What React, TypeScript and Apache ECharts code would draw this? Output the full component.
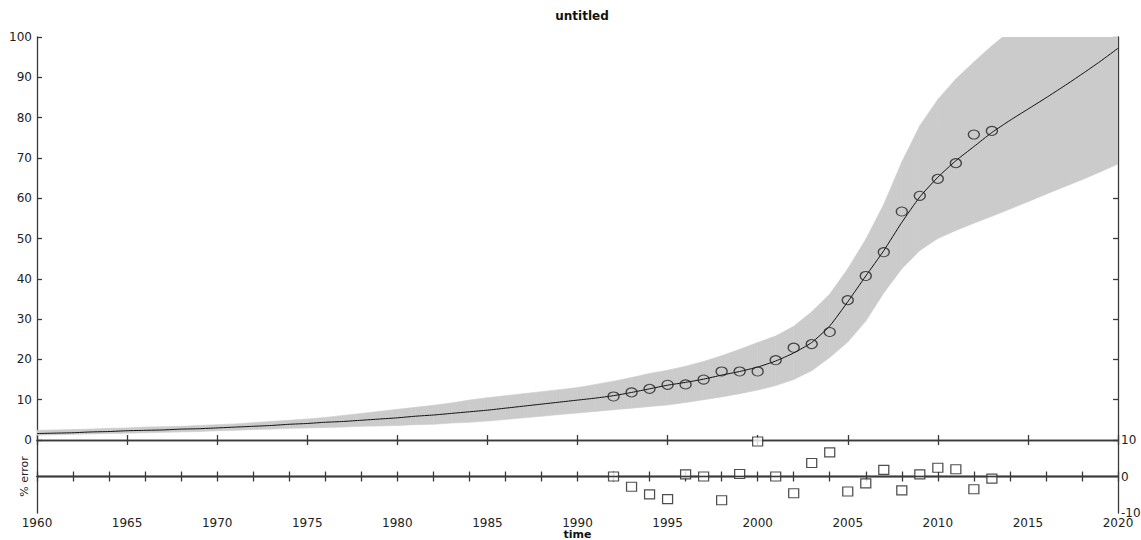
import React, { useEffect, useRef } from "react";
import * as echarts from "echarts";

const TITLE = "untitled";
const X_NAME = "time";
const ERR_NAME = "% error";

const FIT_YEARS = [
  1960, 1961, 1962, 1963, 1964, 1965, 1966, 1967, 1968, 1969,
  1970, 1971, 1972, 1973, 1974, 1975, 1976, 1977, 1978, 1979,
  1980, 1981, 1982, 1983, 1984, 1985, 1986, 1987, 1988, 1989,
  1990, 1991, 1992, 1993, 1994, 1995, 1996, 1997, 1998, 1999,
  2000, 2001, 2002, 2003, 2004, 2005, 2006, 2007, 2008, 2009,
  2010, 2011, 2012, 2013, 2014, 2015, 2016, 2017, 2018, 2019, 2020,
];

const FIT_VALUES = [
  1.6, 1.7, 1.8, 2.0, 2.1, 2.3, 2.4, 2.5, 2.7, 2.8,
  3.0, 3.2, 3.4, 3.6, 3.9, 4.1, 4.4, 4.6, 4.9, 5.2,
  5.5, 5.9, 6.2, 6.6, 7.0, 7.4, 7.9, 8.4, 8.9, 9.4,
  9.9, 10.4, 11.0, 11.8, 12.7, 13.6, 14.3, 15.1, 16.1, 17.0,
  18.1, 19.6, 21.6, 24.2, 28.3, 34.3, 40.7, 47.0, 54.0, 60.3,
  65.2, 69.3, 72.8, 76.3, 79.3, 82.1, 84.9, 87.8, 90.8, 93.9, 97.2,
];

const BAND_LOWER = [
  1.2, 1.3, 1.4, 1.5, 1.6, 1.7, 1.8, 1.9, 2.0, 2.1,
  2.3, 2.4, 2.6, 2.7, 2.9, 3.0, 3.1, 3.2, 3.4, 3.5,
  3.6, 3.8, 3.9, 4.2, 4.4, 4.7, 5.1, 5.5, 5.9, 6.3,
  6.7, 7.1, 7.5, 7.9, 8.3, 8.7, 9.3, 10.0, 10.7, 11.5,
  12.4, 13.5, 15.0, 17.2, 20.5, 24.3, 29.5, 36.5, 42.5, 47.0,
  50.0, 52.0, 53.8, 55.5, 57.3, 59.1, 61.0, 62.8, 64.6, 66.5, 68.5,
];

const BAND_UPPER = [
  2.4, 2.5, 2.6, 2.7, 2.9, 3.0, 3.2, 3.3, 3.4, 3.6,
  3.8, 4.0, 4.3, 4.6, 4.9, 5.2, 5.6, 6.1, 6.6, 7.1,
  7.6, 8.1, 8.6, 9.2, 9.9, 10.5, 11.0, 11.5, 12.0, 12.5,
  13.0, 13.8, 14.6, 15.5, 16.5, 17.3, 18.3, 19.5, 20.9, 22.5,
  24.2, 25.8, 28.2, 31.8, 36.2, 42.5, 49.8, 58.5, 69.0, 78.0,
  84.5, 89.6, 93.8, 97.8, 101.5, 105.0, 108.5, 112.0, 115.5, 119.0, 122.5,
];

const OBS_YEARS = [
  1992, 1993, 1994, 1995, 1996, 1997, 1998, 1999, 2000, 2001, 2002,
  2003, 2004, 2005, 2006, 2007, 2008, 2009, 2010, 2011, 2012, 2013,
];

const OBS_VALUES = [
  10.8, 11.8, 12.7, 13.7, 13.8, 15.0, 17.0, 17.0, 17.0, 19.8, 22.9,
  23.8, 26.8, 34.7, 40.7, 46.6, 56.7, 60.6, 64.8, 68.7, 75.8, 76.7,
];

const ERR_VALUES = [
  0, -2.8, -4.9, -6.2, 0.6, 0, -6.5, 0.7, 9.6, 0, -4.6,
  3.7, 6.6, -4.1, -1.9, 1.8, -3.8, 0.6, 2.4, 2.0, -3.5, -0.6,
];

const X_LABEL_YEARS = [1960, 1965, 1970, 1975, 1980, 1985, 1990, 1995, 2000, 2005, 2010, 2015, 2020];
const X_MINOR_TICKS = [
  1960, 1962, 1964, 1966, 1968, 1970, 1972, 1974, 1976, 1978, 1980, 1982, 1984, 1986, 1988, 1990,
  1992, 1994, 1996, 1998, 2000, 2002, 2004, 2006, 2008, 2010, 2012, 2014, 2016, 2018, 2020,
];
const ERR_TICKS = [-10, 0, 10];

const FONT = "DejaVu Sans";
const AXIS_COLOR = "#3a3a3a";
const TEXT_COLOR = "#222";
const BAND_COLOR = "#cbcbcb";

export default function App() {
  const ref = useRef<HTMLDivElement>(null);

  useEffect(() => {
    if (!ref.current) return;
    const chart = echarts.init(ref.current, undefined, { renderer: "svg" });

    const axisLine = { show: true, lineStyle: { color: AXIS_COLOR, width: 1.3 } };
    const tick = (show: boolean, extra: any = {}) => ({
      show,
      inside: true,
      length: 5,
      lineStyle: { color: AXIS_COLOR, width: 1.3 },
      ...extra,
    });
    const label = { fontFamily: FONT, fontSize: 12, color: TEXT_COLOR, formatter: (v: number) => String(v) };

    const xBase = { type: "value", min: 1960, max: 2020, splitLine: { show: false } };

    const bandSegments = FIT_YEARS.slice(0, -1).map((y, i) => [
      y,
      BAND_LOWER[i],
      BAND_UPPER[i],
      FIT_YEARS[i + 1],
      BAND_LOWER[i + 1],
      BAND_UPPER[i + 1],
    ]);

    const option: any = {
      animation: false,
      backgroundColor: "#fff",
      title: {
        text: TITLE,
        left: 577,
        top: 5,
        textAlign: "center",
        textStyle: { fontFamily: FONT, fontSize: 12, fontWeight: "bold", color: "#111" },
      },
      grid: [
        { left: 37, width: 1081, top: 37, height: 403, containLabel: false, outerBoundsMode: "none" },
        { left: 37, width: 1081, top: 440, height: 73, containLabel: false, outerBoundsMode: "none" },
      ],
      xAxis: [
        {
          ...xBase,
          gridIndex: 0,
          position: "bottom",
          interval: 5,
          axisLine,
          axisTick: tick(true),
          axisLabel: { show: false },
        },
        {
          ...xBase,
          gridIndex: 0,
          position: "top",
          interval: 5,
          axisLine,
          axisTick: tick(true),
          axisLabel: { show: false },
        },
        {
          ...xBase,
          gridIndex: 1,
          position: "bottom",
          interval: 1,
          axisLine,
          axisTick: tick(true, { customValues: X_MINOR_TICKS }),
          axisLabel: { ...label, lineHeight: 12, margin: 4, customValues: X_LABEL_YEARS },
          name: X_NAME,
          nameLocation: "middle",
          nameGap: 16,
          nameMoveOverlap: false,
          nameTextStyle: { fontFamily: FONT, fontSize: 11, fontWeight: "bold", color: "#111", lineHeight: 11 },
        },
        {
          ...xBase,
          gridIndex: 1,
          position: "top",
          interval: 1,
          axisLine,
          axisTick: tick(true, { customValues: X_MINOR_TICKS }),
          axisLabel: { show: false },
        },
      ],
      yAxis: [
        {
          type: "value",
          gridIndex: 0,
          position: "left",
          min: 0,
          max: 100,
          interval: 10,
          splitLine: { show: false },
          axisLine,
          axisTick: tick(true),
          axisLabel: { ...label, margin: 5 },
        },
        {
          type: "value",
          gridIndex: 0,
          position: "right",
          min: 0,
          max: 100,
          interval: 10,
          splitLine: { show: false },
          axisLine,
          axisTick: tick(true),
          axisLabel: { show: false },
        },
        {
          type: "value",
          gridIndex: 1,
          position: "left",
          min: -10,
          max: 10,
          interval: 10,
          splitLine: { show: false },
          axisLine,
          axisTick: { show: false },
          axisLabel: { show: false },
          name: ERR_NAME,
          nameLocation: "middle",
          nameGap: 7,
          nameRotate: 90,
          nameTextStyle: { fontFamily: FONT, fontSize: 11, color: TEXT_COLOR },
        },
        {
          type: "value",
          gridIndex: 1,
          position: "right",
          min: -10,
          max: 10,
          interval: 10,
          splitLine: { show: false },
          axisLine,
          axisTick: { show: false },
          axisLabel: { ...label, margin: 3, customValues: ERR_TICKS },
        },
      ],
      series: [
        {
          name: "band",
          type: "custom",
          xAxisIndex: 0,
          yAxisIndex: 0,
          silent: true,
          encode: { x: [0, 3], y: [1, 2, 4, 5] },
          data: bandSegments,
          renderItem: (params: any, api: any) => {
            const x0 = api.value(0);
            const lo0 = api.value(1);
            const hi0 = api.value(2);
            const x1 = api.value(3);
            const lo1 = api.value(4);
            const hi1 = api.value(5);
            const pts = [
              api.coord([x0, hi0]),
              api.coord([x1, hi1]),
              api.coord([x1, lo1]),
              api.coord([x0, lo0]),
            ];
            const cs = params.coordSys;
            return {
              type: "polygon",
              shape: { points: pts },
              style: { fill: BAND_COLOR, stroke: BAND_COLOR, lineWidth: 0.6 },
              clipPath: {
                type: "rect",
                shape: { x: cs.x, y: cs.y, width: cs.width, height: cs.height },
              },
            };
          },
          z: 1,
        },
        {
          name: "fit",
          type: "line",
          xAxisIndex: 0,
          yAxisIndex: 0,
          symbol: "none",
          smooth: 0.2,
          lineStyle: { color: "#111", width: 1 },
          data: FIT_YEARS.map((y, i) => [y, FIT_VALUES[i]]),
          z: 3,
        },
        {
          name: "observed",
          type: "scatter",
          xAxisIndex: 0,
          yAxisIndex: 0,
          symbol: "circle",
          symbolSize: [11, 9],
          itemStyle: { color: "rgba(0,0,0,0)", borderColor: "#222", borderWidth: 1.2 },
          data: OBS_YEARS.map((y, i) => [y, OBS_VALUES[i]]),
          z: 4,
        },
        {
          name: "error",
          type: "scatter",
          xAxisIndex: 2,
          yAxisIndex: 2,
          symbol: "rect",
          symbolSize: [10, 9],
          itemStyle: { color: "#fff", borderColor: "#222", borderWidth: 1.2 },
          data: OBS_YEARS.map((y, i) => [y, ERR_VALUES[i]]),
          markLine: {
            silent: true,
            symbol: "none",
            label: { show: false },
            lineStyle: { color: AXIS_COLOR, width: 1.3, type: "solid" },
            data: [{ yAxis: 0 }],
          },
          z: 3,
        },
      ],
    };

    chart.setOption(option);
    return () => chart.dispose();
  }, []);

  return (
    <div
      ref={ref}
      style={{ position: "fixed", left: 0, top: 0, width: 1141, height: 540, background: "#fff" }}
    />
  );
}
